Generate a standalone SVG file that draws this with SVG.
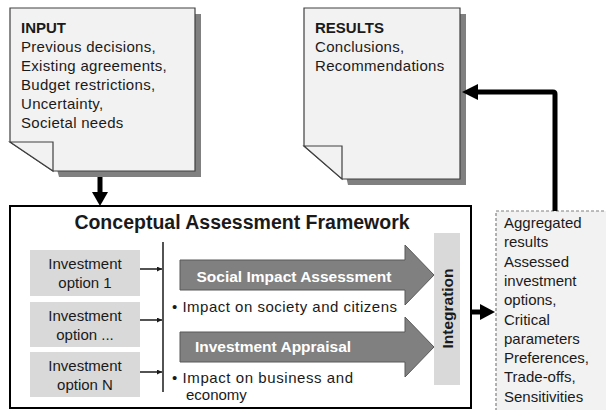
<svg xmlns="http://www.w3.org/2000/svg" width="606" height="410" viewBox="0 0 606 410">
<style>
text{font-family:"Liberation Sans",Arial,sans-serif;fill:#1a1a1a}
.doc{fill:#f2f2f2;stroke:#404040;stroke-width:1.2}
.shadow{fill:#808080}
.fold{fill:#f2f2f2;stroke:#404040;stroke-width:1.2}
.dt{font-size:15px}
.ls{letter-spacing:0.3px}
.b{font-weight:bold}
.opt{fill:#d9d9d9}
.ot{font-size:15px;text-anchor:middle}
.big{fill:#808080;stroke:#595959;stroke-width:1}
.bt{font-size:15.5px;font-weight:bold;fill:#ffffff;text-anchor:middle}
.thin{stroke:#1a1a1a;stroke-width:1.5;fill:none}
.thick{stroke:#000;stroke-width:5;fill:none}
</style>
<defs>
<marker id="sa" viewBox="0 0 10 10" refX="10" refY="5" markerWidth="5" markerHeight="5" markerUnits="userSpaceOnUse" orient="auto"><path d="M0,0 L10,5 L0,10 z" fill="#1a1a1a"/></marker>
</defs>

<g id="input">
<path class="shadow" d="M16,14 H201 V177 H59 Z"/>
<path class="doc" d="M10,8 H195 V171 H53 L10,142 Z"/>
<path class="fold" d="M10,142 H53 V171 Z"/>
<text class="dt b" x="21" y="33">INPUT</text>
<text class="dt ls" x="21" y="52">Previous decisions,</text>
<text class="dt ls" x="21" y="71">Existing agreements,</text>
<text class="dt ls" x="21" y="90">Budget restrictions,</text>
<text class="dt ls" x="21" y="109">Uncertainty,</text>
<text class="dt ls" x="21" y="128">Societal needs</text>
</g>

<g id="results">
<path class="shadow" d="M310,14 H466 V185 H348 Z"/>
<path class="doc" d="M304,8 H460 V179 H342 L304,146 Z"/>
<path class="fold" d="M304,146 H342 V179 Z"/>
<text class="dt b" x="315" y="33">RESULTS</text>
<text class="dt ls" x="315" y="52">Conclusions,</text>
<text class="dt ls" x="315" y="71">Recommendations</text>
</g>

<g id="framework">
<rect x="10" y="206" width="461" height="202" fill="#ffffff" stroke="#000" stroke-width="2"/>
<text x="242" y="229" font-size="19.5" font-weight="bold" text-anchor="middle">Conceptual Assessment Framework</text>
</g>

<g id="option1">
<rect class="opt" x="30" y="250" width="110" height="46"/>
<text class="ot" x="85" y="269">Investment</text>
<text class="ot" x="85" y="288">option 1</text>
</g>
<g id="option2">
<rect class="opt" x="30" y="302" width="110" height="45"/>
<text class="ot" x="85" y="321">Investment</text>
<text class="ot" x="85" y="340">option ...</text>
</g>
<g id="optionN">
<rect class="opt" x="30" y="352" width="110" height="45"/>
<text class="ot" x="85" y="371">Investment</text>
<text class="ot" x="85" y="390">option N</text>
</g>

<g id="sia">
<path class="big" d="M180,260 H405 V245 L434,275 L405,305 V290 H180 Z"/>
<text class="bt" x="294" y="282">Social Impact Assessment</text>
<text class="dt" x="172" y="312" textLength="225" lengthAdjust="spacing">•  Impact on society and citizens</text>
</g>

<g id="ia">
<path class="big" d="M180,332 H405 V317 L434,347 L405,377 V362 H180 Z"/>
<text class="bt" x="273" y="352">Investment Appraisal</text>
<text class="dt" x="172" y="383" textLength="181" lengthAdjust="spacing">•  Impact on business and</text>
<text class="dt" x="186" y="400">economy</text>
</g>

<g id="integration">
<rect x="434" y="233" width="26" height="152" fill="#d9d9d9"/>
<text x="0" y="0" font-size="15.5" font-weight="bold" text-anchor="middle" transform="translate(453,308.5) rotate(-90)">Integration</text>
</g>

<g id="aggregated">
<rect x="496" y="211" width="115" height="210" fill="#f2f2f2" stroke="#808080" stroke-width="1.2" stroke-dasharray="3,2"/>
<text class="dt" x="504" y="228">Aggregated</text>
<text class="dt" x="504" y="247">results</text>
<text class="dt" x="504" y="267">Assessed</text>
<text class="dt" x="504" y="286">investment</text>
<text class="dt" x="504" y="305">options,</text>
<text class="dt" x="504" y="325">Critical</text>
<text class="dt" x="504" y="344">parameters</text>
<text class="dt" x="504" y="363">Preferences,</text>
<text class="dt" x="504" y="382">Trade-offs,</text>
<text class="dt" x="504" y="402">Sensitivities</text>
</g>

<g id="connectors">
<line class="thin" x1="163" y1="242" x2="163" y2="392"/>
<line class="thin" x1="140" y1="269" x2="162" y2="269" marker-end="url(#sa)"/>
<line class="thin" x1="140" y1="320" x2="162" y2="320" marker-end="url(#sa)"/>
<line class="thin" x1="140" y1="372" x2="162" y2="372" marker-end="url(#sa)"/>
<line class="thick" x1="100" y1="177" x2="100" y2="193"/>
<path d="M92,192 L108,192 L100,206 Z" fill="#000"/>
<line class="thick" x1="471" y1="312" x2="481" y2="312"/>
<path d="M480,304 L495,312 L480,320 Z" fill="#000"/>
<path class="thick" d="M555,211 V94 Q555,92 553,92 H477" stroke-linejoin="round"/>
<path d="M478,84 L462,92 L478,100 Z" fill="#000"/>
</g>
</svg>
